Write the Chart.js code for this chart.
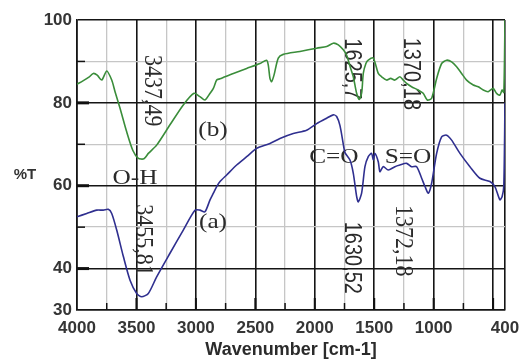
<!DOCTYPE html>
<html>
<head>
<meta charset="utf-8">
<title>FTIR spectra</title>
<script src="https://cdn.jsdelivr.net/npm/chart.js@4.4.1/dist/chart.umd.min.js"></script>
<style>
  body { margin: 0; background: #fff; }
  canvas { display: block; }
</style>
</head>
<body>
<canvas id="ftir-chart" width="519" height="363"></canvas>
<script>
// spectrum (b): wavenumber [cm-1] and transmittance [%T]
const waveB = [4000, 3950, 3900, 3863, 3830, 3792, 3750, 3708, 3680, 3638, 3582, 3530, 3484, 3437, 3400, 3330,
  3218, 3106, 3016, 2966, 2924, 2881, 2853, 2825, 2797, 2755, 2685, 2573, 2461, 2405, 2391, 2377, 2363, 2343,
  2307, 2265, 2125, 1984, 1900, 1844, 1802, 1760, 1732, 1700, 1676, 1648, 1625, 1605, 1592, 1570, 1550, 1508,
  1466, 1438, 1396, 1362, 1326, 1284, 1256, 1228, 1186, 1130, 1088, 1054, 1017, 975, 933, 891, 849, 807, 765,
  723, 667, 625, 583, 541, 499, 471, 443, 424, 410, 400];
const transB = [84.5, 85.3, 86.2, 87.1, 86.7, 85.5, 87.7, 85.5, 82.7, 78.7, 73.0, 68.5, 66.6, 66.5, 67.8, 69.8,
  74.7, 79.5, 82.3, 81.5, 80.7, 82.3, 83.5, 85.5, 85.8, 86.3, 87.1, 88.3, 89.5, 90.3, 89.1, 85.9, 85.1, 86.7,
  90.8, 91.7, 92.4, 93.2, 93.6, 94.4, 94.0, 92.8, 91.5, 88.5, 86.3, 82.3, 80.8, 82.5, 87.1, 89.5, 90.3, 90.8,
  87.1, 86.3, 85.5, 85.9, 85.5, 86.3, 85.5, 84.7, 83.9, 83.1, 82.3, 80.7, 81.1, 85.9, 89.5, 90.3, 89.9, 88.7, 87.1,
  85.5, 84.3, 83.9, 83.1, 82.7, 83.5, 82.3, 81.9, 83.1, 82.5, 100];

// spectrum (a)
const waveA = [4000, 3918, 3834, 3779, 3737, 3708, 3666, 3610, 3554, 3498, 3456, 3400, 3330, 3218, 3106, 3008,
  2966, 2924, 2881, 2853, 2825, 2797, 2741, 2657, 2573, 2489, 2377, 2293, 2181, 2069, 1984, 1900, 1844, 1816,
  1788, 1760, 1746, 1704, 1676, 1648, 1634, 1606, 1578, 1550, 1522, 1508, 1494, 1466, 1452, 1424, 1382, 1326,
  1284, 1228, 1186, 1143, 1101, 1073, 1045, 1017, 975, 933, 891, 849, 779, 695, 611, 527, 485, 443, 424, 410, 400];
const transA = [52.5, 53.3, 54.1, 54.1, 54.3, 53.3, 49.3, 42.9, 37.2, 34.0, 33.2, 34.0, 38.0, 43.7, 49.3, 54.1,
  54.1, 53.7, 56.6, 58.2, 59.8, 61.0, 62.6, 65.0, 67.0, 69.0, 70.2, 71.4, 72.6, 73.4, 75.0, 76.3, 77.1, 76.7,
  74.5, 70.0, 68.0, 66.2, 63.0, 57.4, 56.1, 58.2, 64.6, 67.0, 67.8, 66.2, 67.8, 65.8, 63.4, 64.6, 63.8, 64.6,
  65.0, 65.4, 64.6, 64.6, 61.8, 59.8, 58.2, 60.6, 67.8, 71.8, 72.2, 71.0, 67.8, 64.6, 61.8, 61.0, 59.8, 56.6, 57.4, 60.0, 80];

const xTicks = [4000, 3750, 3500, 3250, 3000, 2750, 2500, 2250, 2000, 1750, 1500, 1250, 1000, 750, 500, 400];
const xLabels = [4000, 3500, 3000, 2500, 2000, 1500, 1000, 400];
const yTicks = [30, 40, 50, 60, 70, 80, 90, 100];
const yLabels = [100, 80, 60, 40, 30];

// band labels, anchored at (wavenumber, %T)
const bandText = ['3437,49', '3455,81', 'O-H', '(b)', '(a)', 'C=O', 'S=O', '1625,7', '1370,18', '1630,52', '1372,18'];
const bandWave = [3369, 3445, 3512, 2856, 2856, 1839, 1216, 1696, 1200, 1696, 1258];
const bandT = [82.9, 46.9, 61.9, 73.4, 51.2, 66.9, 66.9, 88.2, 87.0, 42.6, 46.7];
const bandVertical = [true, true, false, false, false, false, false, true, true, true, true];
const bandSerif = [true, true, true, true, true, true, true, false, false, false, true];

const toPoints = (xs, ys) => xs.map((w, i) => ({ x: w, y: ys[i] }));

const isMajorX = v => v % 500 === 0 || v === 400;
const isMajorY = v => v % 20 === 0 || v === 30;

const frameTicks = {
  id: 'frameTicks',
  beforeDatasetsDraw(chart) {
    const { ctx, chartArea: a, scales: { x, y } } = chart;
    ctx.save();
    ctx.strokeStyle = '#111';
    xTicks.forEach(v => {
      if (v === 4000 || v === 400) return;
      const px = x.getPixelForValue(v);
      const major = v % 500 === 0;
      ctx.lineWidth = major ? 2 : 1.5;
      ctx.beginPath();
      ctx.moveTo(px, a.bottom);
      ctx.lineTo(px, a.bottom - (major ? 12 : 7));
      ctx.stroke();
    });
    yTicks.forEach(v => {
      if (v === 30 || v === 100) return;
      const py = y.getPixelForValue(v);
      const major = v % 20 === 0;
      ctx.lineWidth = major ? 3 : 1.5;
      ctx.beginPath();
      ctx.moveTo(a.left, py);
      ctx.lineTo(a.left + (major ? 12 : 8), py);
      ctx.stroke();
    });

    // band labels sit under the curves
    ctx.fillStyle = '#2b2b2b';
    ctx.textAlign = 'center';
    ctx.textBaseline = 'middle';
    bandText.forEach((t, i) => {
      const px = x.getPixelForValue(bandWave[i]);
      const py = y.getPixelForValue(bandT[i]);
      ctx.save();
      ctx.translate(px, py);
      ctx.scale(1.15, 1);
      if (bandVertical[i]) ctx.rotate(Math.PI / 2);
      ctx.font = bandSerif[i] ? '22px "Liberation Serif", serif' : '20px "Liberation Sans", Arial, sans-serif';
      ctx.fillText(t, 0, 0);
      ctx.restore();
    });

    // %T axis caption
    ctx.font = 'bold 15px "Liberation Sans", Arial, sans-serif';
    ctx.fillStyle = '#333';
    ctx.fillText('%T', 25, 175);
    ctx.restore();
  }
};

new Chart(document.getElementById('ftir-chart'), {
  type: 'line',
  data: {
    datasets: [
      {
        label: '(b)',
        data: toPoints(waveB, transB),
        borderColor: '#3a8d3a',
        borderWidth: 1.6,
        pointRadius: 0,
        tension: 0.25,
        fill: false
      },
      {
        label: '(a)',
        data: toPoints(waveA, transA),
        borderColor: '#2f2f8f',
        borderWidth: 1.6,
        pointRadius: 0,
        tension: 0.25,
        fill: false
      }
    ]
  },
  options: {
    responsive: false,
    animation: false,
    layout: { padding: { top: 20, right: 14, left: 0, bottom: 0 } },
    plugins: {
      legend: { display: false },
      tooltip: { enabled: false }
    },
    scales: {
      x: {
        type: 'linear',
        reverse: true,
        min: 400,
        max: 4000,
        afterFit: s => {
          s.height = 53;
          // let the end labels hang over the padding instead of shrinking the plot
          s.paddingLeft = 0;
          s.paddingRight = 0;
        },
        afterBuildTicks: s => { s.ticks = xTicks.map(v => ({ value: v })); },
        ticks: {
          autoSkip: false,
          maxRotation: 0,
          padding: 8,
          color: '#353535',
          font: { family: '"Liberation Sans", Arial, sans-serif', size: 17, weight: 'bold' },
          callback: v => (xLabels.includes(v) ? String(v) : '')
        },
        grid: {
          drawTicks: false,
          color: c => (isMajorX(c.tick.value) ? '#151515' : '#c6c6c6'),
          lineWidth: c => (isMajorX(c.tick.value) ? 1.6 : 1.3)
        },
        border: { color: '#151515', width: 1.6 },
        title: {
          display: true,
          text: 'Wavenumber [cm-1]',
          color: '#2b2b2b',
          font: { family: '"Liberation Sans", Arial, sans-serif', size: 18, weight: 'bold' },
          padding: { top: 0, bottom: 2 }
        }
      },
      y: {
        min: 30,
        max: 100,
        afterFit: s => { s.width = 77; },
        afterBuildTicks: s => { s.ticks = yTicks.map(v => ({ value: v })); },
        ticks: {
          autoSkip: false,
          padding: 5,
          color: '#353535',
          font: { family: '"Liberation Sans", Arial, sans-serif', size: 17, weight: 'bold' },
          callback: v => (yLabels.includes(v) ? String(v) : '')
        },
        grid: {
          drawTicks: false,
          color: c => (isMajorY(c.tick.value) ? '#151515' : '#c6c6c6'),
          lineWidth: c => (isMajorY(c.tick.value) ? 1.6 : 1.3)
        },
        border: { color: '#151515', width: 1.6 }
      }
    }
  },
  plugins: [frameTicks]
});
</script>
</body>
</html>
